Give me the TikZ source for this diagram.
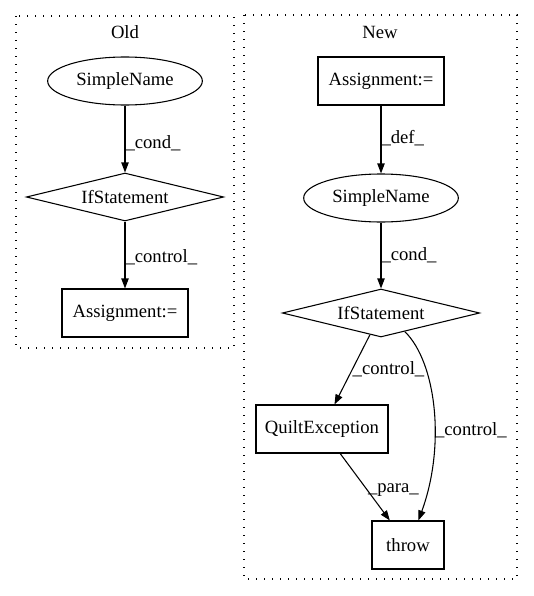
\documentclass[tikz,border=0pt]{standalone}
\usepackage{fontspec}
\setmainfont{Liberation Serif}
\usetikzlibrary{arrows.meta}
\usetikzlibrary{shapes.geometric}
\usetikzlibrary{positioning}

\tikzset{
  gvbox/.style={draw, rectangle, minimum height=36pt, inner sep=0pt},
  gvoval/.style={draw, ellipse, minimum width=116pt, minimum height=36pt, inner sep=0pt},
  gvdiam/.style={draw, diamond, aspect=4.1, minimum width=148pt, minimum height=36pt, inner sep=0pt},
  gvedge/.style={-{Triangle[length=7.5pt,width=5.5pt]}, line width=0.8pt},
  gvlabel/.style={anchor=west, inner sep=0pt},
  cluster/.style={line width=0.8pt, dash pattern=on 1pt off 5pt},
}

\begin{document}
\begin{tikzpicture}[x=0.75pt, y=-0.75pt, font=\fontsize{14pt}{16pt}\selectfont, line width=0.8pt]
  \useasboundingbox (0, 0) rectangle (533, 596);

  % Old
  \draw[cluster] (16, 16) rectangle (234, 348);
  \node at (125, 32) (oldtitle) {Old};
  \node[gvoval] at (125, 81) (oldname) {SimpleName};
  \node[gvdiam] at (125, 197) (oldif) {IfStatement};
  \node[gvbox, minimum width=94.5pt] at (125, 313) (oldassign) {Assignment:=};
  \draw[gvedge] (oldname) -- node[gvlabel, pos=0.56] (oldcond) {\_cond\_} (oldif);
  \draw[gvedge] (oldif) -- node[gvlabel, pos=0.54] (oldctrl) {\_control\_} (oldassign);

  % New
  \draw[cluster] (244, 15) rectangle (517, 579);
  \node at (380, 32) (newtitle) {New};
  \node[gvbox, minimum width=94.5pt] at (381, 81) (newassign) {Assignment:=};
  \node[gvoval] at (381, 198) (newname) {SimpleName};
  \node[gvdiam] at (381, 313) (newif) {IfStatement};
  \node[gvbox, minimum width=99pt] at (322, 429) (quilt) {QuiltException};
  \node[gvbox, minimum width=54pt] at (408, 545) (throw) {throw};
  \draw[gvedge] (newassign) -- node[gvlabel, pos=0.48] (newdef) {\_def\_} (newname);
  \draw[gvedge] (newname) -- node[gvlabel, pos=0.49] (newcond) {\_cond\_} (newif);
  \draw[gvedge] (newif) -- node[gvlabel, midway] (newctrl) {\_control\_} (quilt);
  \draw[gvedge] (quilt) -- node[gvlabel, pos=0.55] (newpara) {\_para\_} (throw);
  \draw[gvedge] (newif.-38) .. controls (436, 362) and (446, 445) .. node[gvlabel, pos=0.6] (newctrl2) {\_control\_} (throw.67);
\end{tikzpicture}
\end{document}
